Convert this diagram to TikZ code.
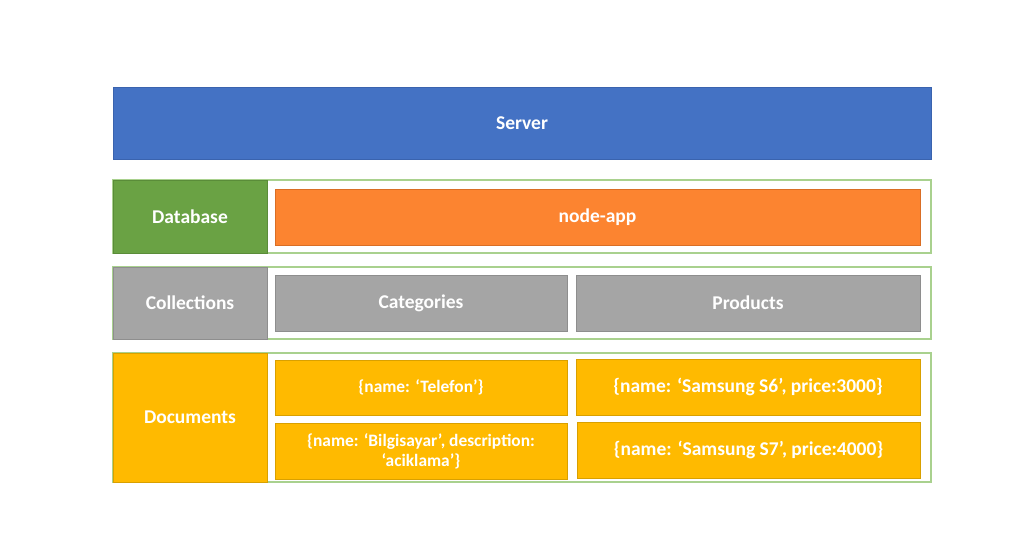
\documentclass[tikz,border=0pt]{standalone}
\usepackage{fontspec}
\setmainfont{Carlito}
\definecolor{srvblue}{HTML}{4472C4}
\definecolor{srvedge}{HTML}{3A63AE}
\definecolor{dbgreen}{HTML}{6AA244}
\definecolor{dbedge}{HTML}{5A8C39}
\definecolor{frgreen}{HTML}{A9D18E}
\definecolor{appor}{HTML}{FC8430}
\definecolor{appedge}{HTML}{D96E25}
\definecolor{colgray}{HTML}{A5A5A5}
\definecolor{coledge}{HTML}{8E8E8E}
\definecolor{docgold}{HTML}{FFBA00}
\definecolor{docedge}{HTML}{D9A000}
\tikzset{
  box/.style={rectangle, inner sep=2pt, text=white, font=\bfseries\fontsize{19.5}{23}\selectfont, align=center, line width=0.8pt},
  frame/.style={rectangle, draw=frgreen, line width=1.2pt, fill=white, inner sep=0pt},
  smalltxt/.style={font=\bfseries\fontsize{17.4}{20}\selectfont},
  midtxt/.style={font=\bfseries\fontsize{19.5}{23}\selectfont},
}
\begin{document}
\begin{tikzpicture}[x=1pt,y=-1pt]
\useasboundingbox (0,0) rectangle (1016,537);
\fill[white] (0,0) rectangle (1016,537);
% Server
\node[box, fill=srvblue, draw=srvedge, minimum width=818pt, minimum height=72pt] (server) at (522,123) {Server};
% Database row
\node[frame, minimum width=818pt, minimum height=73pt] (fdb) at (522,216.5) {};
\node[box, fill=dbgreen, draw=dbedge, minimum width=154pt, minimum height=73pt] (db) at (190,216.5) {Database};
\node[box, fill=appor, draw=appedge, minimum width=645pt, minimum height=56pt] (app) at (597.5,217) {node-app};
% Collections row
\node[frame, minimum width=818pt, minimum height=72pt] (fcol) at (522,303) {};
\node[box, fill=colgray, draw=coledge, minimum width=154pt, minimum height=72pt] (col) at (190,303) {Collections};
\node[box, fill=colgray, draw=coledge, minimum width=292pt, minimum height=56pt] (cat) at (421,303) {Categories};
\node[box, fill=colgray, draw=coledge, minimum width=344pt, minimum height=56pt] (prod) at (748,303) {Products};
% Documents row
\node[frame, minimum width=818pt, minimum height=129pt] (fdoc) at (522,417.5) {};
\node[box, fill=docgold, draw=docedge, minimum width=154pt, minimum height=129pt] (doc) at (190,417.5) {Documents};
\node[box, smalltxt, fill=docgold, draw=docedge, minimum width=292pt, minimum height=55pt] (tel) at (421,387.5) {\{name: ‘Telefon’\}};
\node[box, smalltxt, fill=docgold, draw=docedge, minimum width=292pt, minimum height=56pt] (bil) at (421,451) {\{name: ‘Bilgisayar’, description:\\‘aciklama’\}};
\node[box, midtxt, fill=docgold, draw=docedge, minimum width=344pt, minimum height=56pt] (s6) at (748,387) {\{name: ‘Samsung S6’, price:3000\}};
\node[box, midtxt, fill=docgold, draw=docedge, minimum width=343pt, minimum height=56pt] (s7) at (748.5,450) {\{name: ‘Samsung S7’, price:4000\}};
\end{tikzpicture}
\end{document}
